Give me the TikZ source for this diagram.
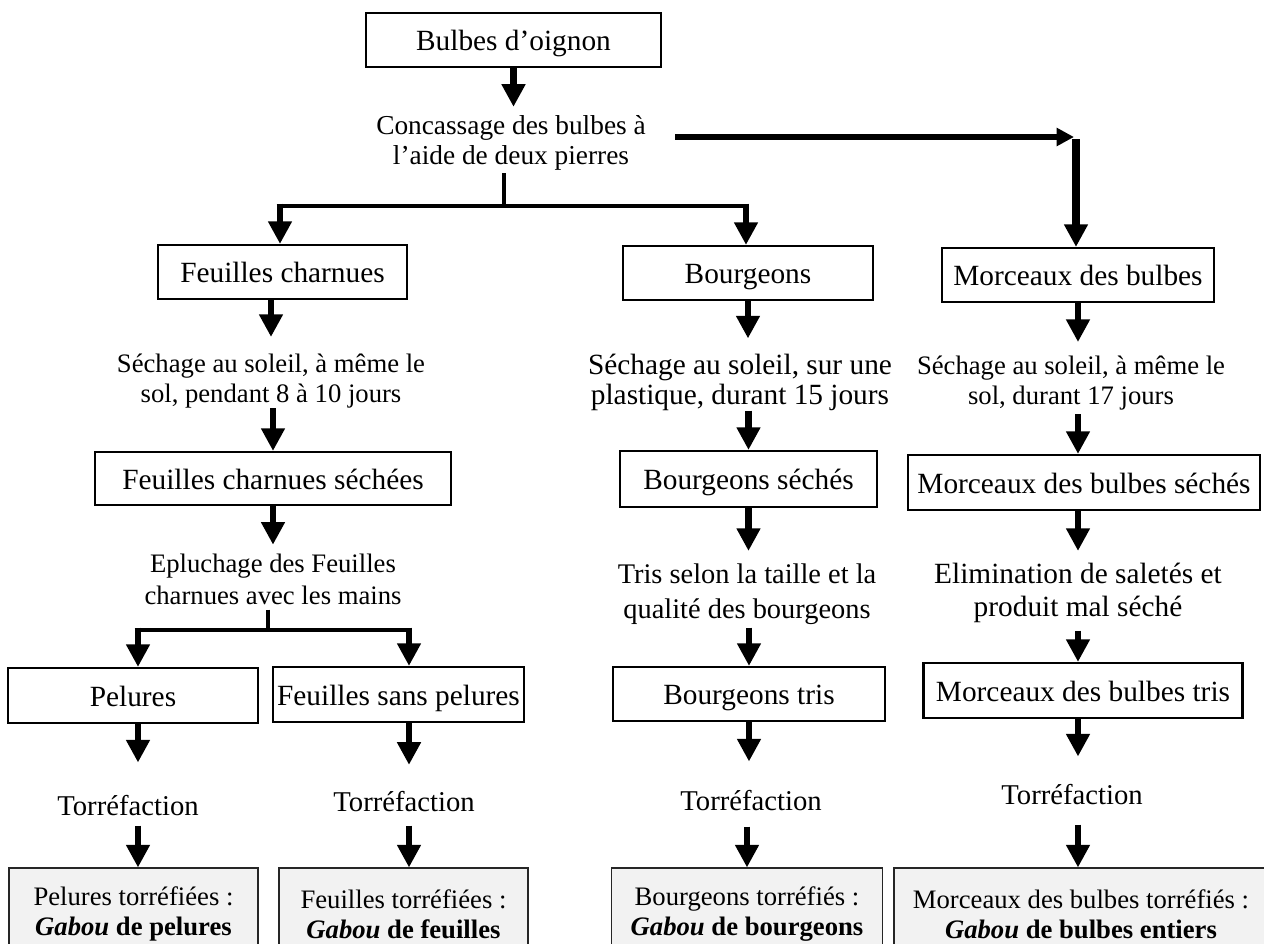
\documentclass[tikz,border=0pt]{standalone}
\usepackage{fontspec}
\setmainfont{Liberation Serif}
\usetikzlibrary{arrows.meta,calc}
\begin{document}
\begin{tikzpicture}[x=0.75pt,y=-0.75pt,
  box/.style={draw,line width=1.6pt,inner sep=0pt,text height=18pt,text depth=2pt,font=\fontsize{22}{26}\selectfont},
  bot/.style={draw=black!85,line width=0.8pt,fill=black!5,inner sep=0pt,align=center,font=\fontsize{20}{22.5}\selectfont},
  txt/.style={inner sep=0pt,align=center},
  torr/.style={inner sep=0pt,font=\fontsize{21.5}{24}\selectfont},
  arr/.style={line width=5pt,-{Triangle[length=17pt,width=17pt]}},
  harr/.style={line width=4.2pt,-{Triangle[length=13pt,width=13pt]}},
  branch/.style={line width=3.5pt},
  stem/.style={line width=2.6pt}]
\useasboundingbox (0,0) rectangle (1264,943);
\clip (0,0) rectangle (1264,943);

% ---------- top ----------
\node[box,minimum width=221.25pt,minimum height=40.5pt] (b0) at (513.5,40) {Bulbes d’oignon};
\node[txt,font=\fontsize{20.5}{22.5}\selectfont] (conc) at (511,142.5) {Concassage des bulbes à\\l’aide de deux pierres};

\coordinate (rc) at (1076,137);
\coordinate (br) at (504,206);
\coordinate (bl) at (280,206);
\coordinate (brr) at (746,206);

% ---------- row 1 ----------
\node[box,minimum width=186.75pt,minimum height=40.5pt] (fc) at (282.5,272) {Feuilles charnues};
\node[box,minimum width=187.5pt,minimum height=40.5pt] (bg) at (748,273) {Bourgeons};
\node[box,minimum width=204pt,minimum height=40.5pt] (mb) at (1078,275) {Morceaux des bulbes};

\node[txt,font=\fontsize{20}{22.5}\selectfont] (s1) at (271,381) {Séchage au soleil, à même le\\sol, pendant 8 à 10 jours};
\node[txt,font=\fontsize{22}{22.5}\selectfont] (s2) at (740,382) {Séchage au soleil, sur une\\plastique, durant 15 jours};
\node[txt,font=\fontsize{20}{22.5}\selectfont] (s3) at (1071,383) {Séchage au soleil, à même le\\sol, durant 17 jours};

% ---------- row 2 ----------
\node[box,minimum width=267pt,minimum height=39.75pt] (fcs) at (273,478.5) {Feuilles charnues séchées};
\node[box,minimum width=192.75pt,minimum height=42pt] (bs) at (748.5,479) {Bourgeons séchés};
\node[box,minimum width=264pt,minimum height=41.25pt] (mbs) at (1084,482.5) {Morceaux des bulbes séchés};

\node[txt,font=\fontsize{20}{24}\selectfont] (ep) at (273,579) {Epluchage des Feuilles\\charnues avec les mains};
\node[txt,font=\fontsize{21.3}{26}\selectfont] (tr) at (747,594) {Tris selon la taille et la\\qualité des bourgeons};
\node[txt,font=\fontsize{22}{24.75}\selectfont] (el) at (1078,593) {Elimination de saletés et\\produit mal séché};

\coordinate (js) at (268,630);
\coordinate (j1) at (138,630);
\coordinate (j2) at (409,630);

% ---------- row 3 ----------
\node[box,minimum width=187.5pt,minimum height=41.25pt] (pel) at (133,695.5) {Pelures};
\node[box,minimum width=188.25pt,minimum height=41.25pt] (fsp) at (398.5,694.5) {Feuilles sans pelures};
\node[box,minimum width=204pt,minimum height=40.5pt] (bt) at (749,694) {Bourgeons tris};
\node[box,minimum width=239.25pt,minimum height=41.25pt] (mbt) at (1083,690.5) {Morceaux des bulbes tris};

\node[torr] (t1) at (128,806) {Torréfaction};
\node[torr] (t2) at (404,802) {Torréfaction};
\node[torr] (t3) at (751,801) {Torréfaction};
\node[torr] (t4) at (1072,795) {Torréfaction};

% ---------- bottom ----------
\node[bot,minimum width=186.75pt,minimum height=69pt] (p1) at (133.5,914) {Pelures torréfiées :\\\textbf{\textit{Gabou} de pelures}};
\node[bot,minimum width=186.75pt,minimum height=69pt] (p2) at (403.5,914) {Feuilles torréfiées :\\\textbf{\textit{Gabou} de feuilles}};
\node[bot,minimum width=203.25pt,minimum height=69pt] (p3) at (747,914) {Bourgeons torréfiés :\\\textbf{\textit{Gabou} de bourgeons}};
\node[bot,minimum width=280.5pt,minimum height=69pt] (p4) at (1081,914) {Morceaux des bulbes torréfiés :\\\textbf{\textit{Gabou} de bulbes entiers}};

% ---------- connectors ----------
\draw[arr,shorten >=6pt] (b0.south) -- (b0.south |- conc.north);
\draw[harr,shorten <=21.75pt,shorten >=1.5pt] (conc.east |- rc) -- (rc);
\draw[arr,line width=5.6pt] ([yshift=-1.5pt]rc) -- (rc |- mb.north);
\draw[stem,shorten <=2.25pt] (conc.south -| br) -- (br);
\draw[branch] ([xshift=-2.5pt]bl) -- ([xshift=2.5pt]brr);
\draw[arr] ([yshift=1.75pt]bl) -- (bl |- fc.north);
\draw[arr] ([yshift=1.75pt]brr) -- (brr |- bg.north);

% column 1
\draw[arr,shorten >=12.5pt] (fc.south -| s1.north) -- (s1.north);
\draw[arr] (s1.south -| fcs.north) -- (fcs.north);
\draw[arr,shorten >=6.5pt] (fcs.south) -- (fcs.south |- ep.north);
\draw[stem,shorten <=3.75pt] (ep.south -| js) -- (js);
\draw[branch] ([xshift=-2.5pt]j1) -- ([xshift=2.5pt]j2);
\draw[arr] ([yshift=1.75pt]j1) -- (j1 |- pel.north);
\draw[arr] ([yshift=1.75pt]j2) -- (j2 |- fsp.north);
\draw[arr,shorten >=24.75pt] (j1 |- pel.south) -- (j1 |- t1.north);
\draw[arr,shorten >=20pt] (j2 |- fsp.south) -- (j2 |- t2.north);
\draw[arr,shorten <=6.75pt] (j1 |- t1.south) -- (j1 |- p1.north);
\draw[arr,shorten <=9.75pt] (j2 |- t2.south) -- (j2 |- p2.north);

% column 2
\draw[arr,shorten >=11.25pt] (bg.south) -- (bg.south |- s2.north);
\draw[arr] (s2.south -| bs.north) -- (bs.north);
\draw[arr,shorten >=9.4pt] (bs.south) -- (bs.south |- tr.north);
\draw[arr,shorten <=2.25pt] (tr.south -| bt.north) -- (bt.north);
\draw[arr,shorten >=21.75pt] (bt.south) -- (bt.south |- t3.north);
\draw[arr,shorten <=11.25pt] (t3.south -| p3.north) -- (p3.north);

% column 3
\draw[arr,shorten >=10.2pt] (mb.south) -- (mb.south |- s3.north);
\draw[arr,shorten <=3pt] (s3.south -| mb.south) -- (mb.south |- mbs.north);
\draw[arr,shorten >=9pt] (mbs.south -| mb.south) -- (mb.south |- el.north);
\draw[arr,shorten <=5.7pt] (el.south -| mb.south) -- (mb.south |- mbt.north);
\draw[arr,shorten >=21pt] (mbt.south -| mb.south) -- (mb.south |- t4.north);
\draw[arr,shorten <=14.25pt] (t4.south -| mb.south) -- (mb.south |- p4.north);
\end{tikzpicture}
\end{document}
